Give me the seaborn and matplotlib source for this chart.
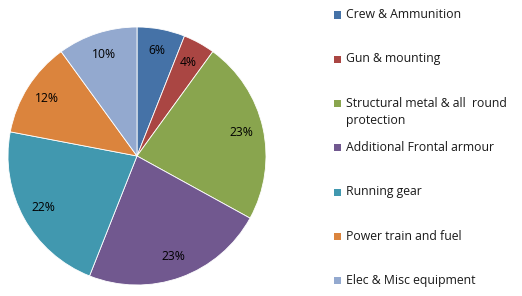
import matplotlib
matplotlib.use("Agg")
import matplotlib.pyplot as plt
from matplotlib.patches import Rectangle
import seaborn as sns

CATEGORIES = [
    "Crew & Ammunition",
    "Gun & mounting",
    "Structural metal & all  round\nprotection",
    "Additional Frontal armour",
    "Running gear",
    "Power train and fuel",
    "Elec & Misc equipment",
]
SHARES = [6, 4, 23, 23, 22, 12, 10]
COLOURS = ["#4572A7", "#AA4643", "#89A54E", "#71588F", "#4198AF", "#DB843D", "#93A9CF"]

W, H = 522, 296

sns.set_theme(style="white")
plt.rcParams["font.family"] = ["Open Sans", "DejaVu Sans"]

palette = sns.color_palette(COLOURS)

fig = plt.figure(figsize=(W / 100, H / 100), dpi=100)
ax = fig.add_axes([8 / W, 11 / H, 258 / W, 258 / H])

wedges, _, autotexts = ax.pie(
    SHARES,
    colors=palette,
    startangle=90,
    counterclock=False,
    autopct="%1.0f%%",
    pctdistance=0.83,
    wedgeprops={"edgecolor": "white", "linewidth": 0.6},
    textprops={"fontsize": 8.7, "color": "black"},
)
ax.set_xlim(-1.0, 1.0)
ax.set_ylim(-1.0, 1.0)
ax.set_aspect("equal")

# legend drawn by hand: Excel keeps a fixed row step and hangs the wrapped line
row_step = 44.3
for i, (label, wedge) in enumerate(zip(CATEGORIES, wedges)):
    yc = 15 + row_step * i
    fig.patches.append(Rectangle((334 / W, 1 - (yc + 3.5) / H), 7 / W, 7 / H,
                                 transform=fig.transFigure,
                                 facecolor=wedge.get_facecolor(), edgecolor="none"))
    fig.text(346 / W, 1 - (yc - 7) / H, label, ha="left", va="top",
             fontsize=8.8, linespacing=1.45, color="#1a1a1a")

fig.savefig("out.png", dpi=100)
